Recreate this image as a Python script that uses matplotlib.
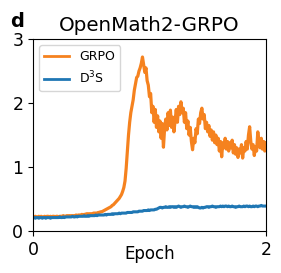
import numpy as np
import matplotlib
matplotlib.use("Agg")
import matplotlib.pyplot as plt

# values, one every 0.01 epoch
epoch = np.linspace(0, 2, 201)

grpo = [
    0.22, 0.22, 0.23, 0.22, 0.22, 0.23, 0.22, 0.23, 0.22, 0.22,
    0.23, 0.22, 0.23, 0.23, 0.22, 0.23, 0.22, 0.23, 0.23, 0.22,
    0.23, 0.23, 0.22, 0.23, 0.23, 0.23, 0.24, 0.23, 0.23, 0.24,
    0.23, 0.24, 0.24, 0.23, 0.24, 0.24, 0.24, 0.25, 0.24, 0.25,
    0.25, 0.25, 0.26, 0.25, 0.26, 0.26, 0.27, 0.26, 0.27, 0.27,
    0.27, 0.27, 0.28, 0.28, 0.28, 0.28, 0.29, 0.29, 0.30, 0.30,
    0.31, 0.32, 0.33, 0.34, 0.35, 0.36, 0.37, 0.38, 0.40, 0.41,
    0.43, 0.45, 0.47, 0.49, 0.51, 0.54, 0.57, 0.62, 0.68, 0.78,
    0.98, 1.25, 1.50, 1.70, 1.85, 1.95, 2.05, 2.20, 2.30, 2.40,
    2.42, 2.50, 2.55, 2.62, 2.72, 2.60, 2.48, 2.55, 2.35, 2.28,
    2.10, 2.15, 1.85, 1.95, 1.70, 1.90, 1.62, 1.80, 1.55, 1.72,
    1.45, 1.68, 1.31, 1.60, 1.75, 1.58, 1.85, 1.65, 1.89, 1.62,
    1.78, 1.55, 1.72, 1.90, 1.70, 1.95, 1.82, 2.02, 1.85, 1.92,
    1.70, 1.85, 1.60, 1.72, 1.50, 1.62, 1.40, 1.27, 1.45, 1.38,
    1.60, 1.52, 1.75, 1.68, 1.85, 1.92, 1.75, 1.82, 1.60, 1.70,
    1.55, 1.65, 1.48, 1.58, 1.42, 1.55, 1.38, 1.50, 1.35, 1.45,
    1.25, 1.40, 1.16, 1.38, 1.30, 1.45, 1.28, 1.40, 1.25, 1.38,
    1.30, 1.42, 1.22, 1.35, 1.20, 1.30, 1.15, 1.28, 1.22, 1.35,
    1.14, 1.30, 1.25, 1.40, 1.28, 1.50, 1.63, 1.40, 1.28, 1.35,
    1.18, 1.32, 1.25, 1.55, 1.38, 1.30, 1.45, 1.28, 1.40, 1.25,
    1.38,
]

d3s = [
    0.21, 0.21, 0.20, 0.21, 0.21, 0.20, 0.21, 0.21, 0.20, 0.21,
    0.21, 0.20, 0.21, 0.21, 0.21, 0.20, 0.21, 0.21, 0.21, 0.21,
    0.21, 0.21, 0.21, 0.22, 0.21, 0.21, 0.22, 0.21, 0.22, 0.22,
    0.22, 0.22, 0.22, 0.22, 0.23, 0.22, 0.22, 0.23, 0.22, 0.23,
    0.23, 0.23, 0.23, 0.23, 0.24, 0.23, 0.23, 0.24, 0.23, 0.24,
    0.24, 0.24, 0.24, 0.24, 0.25, 0.24, 0.25, 0.25, 0.25, 0.25,
    0.25, 0.25, 0.26, 0.25, 0.26, 0.26, 0.26, 0.26, 0.27, 0.26,
    0.27, 0.27, 0.27, 0.27, 0.28, 0.27, 0.28, 0.28, 0.28, 0.28,
    0.28, 0.29, 0.29, 0.29, 0.29, 0.29, 0.30, 0.30, 0.30, 0.30,
    0.30, 0.31, 0.31, 0.31, 0.31, 0.32, 0.32, 0.32, 0.32, 0.33,
    0.32, 0.33, 0.33, 0.33, 0.33, 0.34, 0.34, 0.35, 0.36, 0.37,
    0.37, 0.36, 0.37, 0.37, 0.38, 0.37, 0.37, 0.38, 0.37, 0.38,
    0.38, 0.37, 0.38, 0.37, 0.38, 0.39, 0.38, 0.37, 0.38, 0.38,
    0.39, 0.38, 0.38, 0.37, 0.38, 0.39, 0.38, 0.38, 0.37, 0.38,
    0.37, 0.38, 0.37, 0.36, 0.36, 0.37, 0.36, 0.37, 0.37, 0.38,
    0.38, 0.37, 0.38, 0.38, 0.39, 0.38, 0.38, 0.37, 0.38, 0.38,
    0.38, 0.39, 0.38, 0.39, 0.38, 0.39, 0.39, 0.38, 0.39, 0.38,
    0.38, 0.39, 0.38, 0.38, 0.37, 0.38, 0.38, 0.39, 0.38, 0.38,
    0.38, 0.39, 0.38, 0.39, 0.39, 0.38, 0.39, 0.38, 0.38, 0.39,
    0.38, 0.39, 0.39, 0.38, 0.39, 0.39, 0.40, 0.39, 0.39, 0.39,
    0.39,
]

fig = plt.figure(figsize=(2.81, 2.73), dpi=100)
ax = fig.add_axes([0.1174, 0.1538, 0.829, 0.703])

ax.plot(epoch, grpo, color="#f5821f", lw=2.3, label="GRPO")
ax.plot(epoch, d3s, color="#1f77b4", lw=2.2, label="D$^3$S")

ax.set_xlim(0, 2)
ax.set_ylim(0, 3)
ax.set_xticks([0, 2])
ax.set_yticks([0, 1, 2, 3])
ax.tick_params(labelsize=12.5)
ax.set_xlabel("Epoch", fontsize=12, labelpad=-10)
ax.set_title("OpenMath2-GRPO", fontsize=14.3)
leg = ax.legend(loc="upper left", fontsize=9)
leg.get_lines()[0].set_linewidth(2)
leg.get_lines()[1].set_linewidth(2)

fig.text(0.035, 0.9, "d", fontsize=14, fontweight="bold")

fig.savefig("out.png", dpi=100)
